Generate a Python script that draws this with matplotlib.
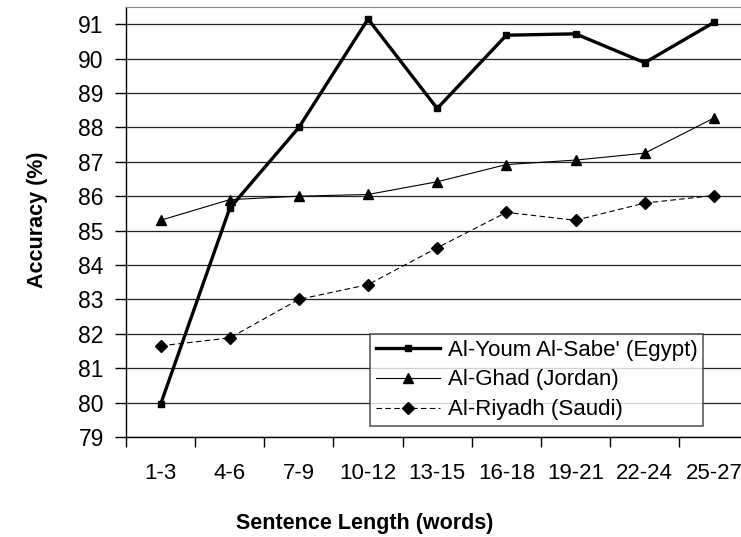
import matplotlib
matplotlib.use("Agg")
import matplotlib.pyplot as plt
from matplotlib.ticker import FixedLocator

plt.rcParams["font.family"] = ["Liberation Sans", "DejaVu Sans"]

categories = ["1-3", "4-6", "7-9", "10-12", "13-15", "16-18", "19-21", "22-24", "25-27"]
egypt = [79.95, 85.65, 88.0, 91.15, 88.55, 90.68, 90.72, 89.88, 91.05]
jordan = [85.3, 85.9, 86.0, 86.05, 86.42, 86.92, 87.05, 87.25, 88.27]
saudi = [81.65, 81.88, 83.0, 83.43, 84.5, 85.53, 85.3, 85.8, 86.02]

fig = plt.figure(figsize=(7.41, 5.37), dpi=100)
ax_w = 1 - 126 / 741 + 0.01
ax = fig.add_axes([126 / 741, 1 - 437 / 537, ax_w, (437 - 7) / 537])

x = list(range(len(categories)))
ax.plot(x, egypt, color="black", lw=2.4, marker="s", ms=5, label="Al-Youm Al-Sabe' (Egypt)")
ax.plot(x, jordan, color="black", lw=0.8, marker="^", ms=7.5, label="Al-Ghad (Jordan)")
ax.plot(x, saudi, color="black", lw=0.8, ls=(0, (5, 3)), marker="D", ms=6.5, label="Al-Riyadh (Saudi)")

ax.set_xlim(-0.5, 8.5)
ax.set_ylim(79, 91.5)
ax.yaxis.set_major_locator(FixedLocator(range(79, 92)))
ax.set_yticklabels([str(v) for v in range(79, 92)])
ax.grid(axis="y", color="#222222", lw=0.9)
ax.set_axisbelow(True)

ax.set_xticks(x)
ax.set_xticklabels(categories)
ax.xaxis.set_minor_locator(FixedLocator([i + 0.5 for i in range(-1, 9)]))
ax.tick_params(axis="x", which="major", length=0, labelsize=16, pad=19)
ax.tick_params(axis="x", which="minor", length=7, width=1, direction="out")
ax.tick_params(axis="y", length=8, width=1, labelsize=16.5, pad=8)

ax.spines["right"].set_visible(False)
ax.spines["top"].set_color("#888888")
ax.spines["left"].set_linewidth(1)
ax.spines["bottom"].set_linewidth(1)

fig.text(38 / 741, 1 - 220 / 537, "Accuracy (%)", fontsize=15.5, fontweight="bold",
         rotation=90, ha="center", va="center")
fig.text(365 / 741, 1 - 523 / 537, "Sentence Length (words)", fontsize=15.5, fontweight="bold",
         ha="center", va="center")

leg = ax.legend(loc="upper left", bbox_to_anchor=(244 / (ax_w * 741), 103 / 430), fontsize=16,
                frameon=True, fancybox=False, edgecolor="#333333", handlelength=2.9,
                borderpad=0.25, labelspacing=0.4, handletextpad=0.35, borderaxespad=0)
leg.get_frame().set_linewidth(1.2)

fig.savefig("out.png", dpi=100)
